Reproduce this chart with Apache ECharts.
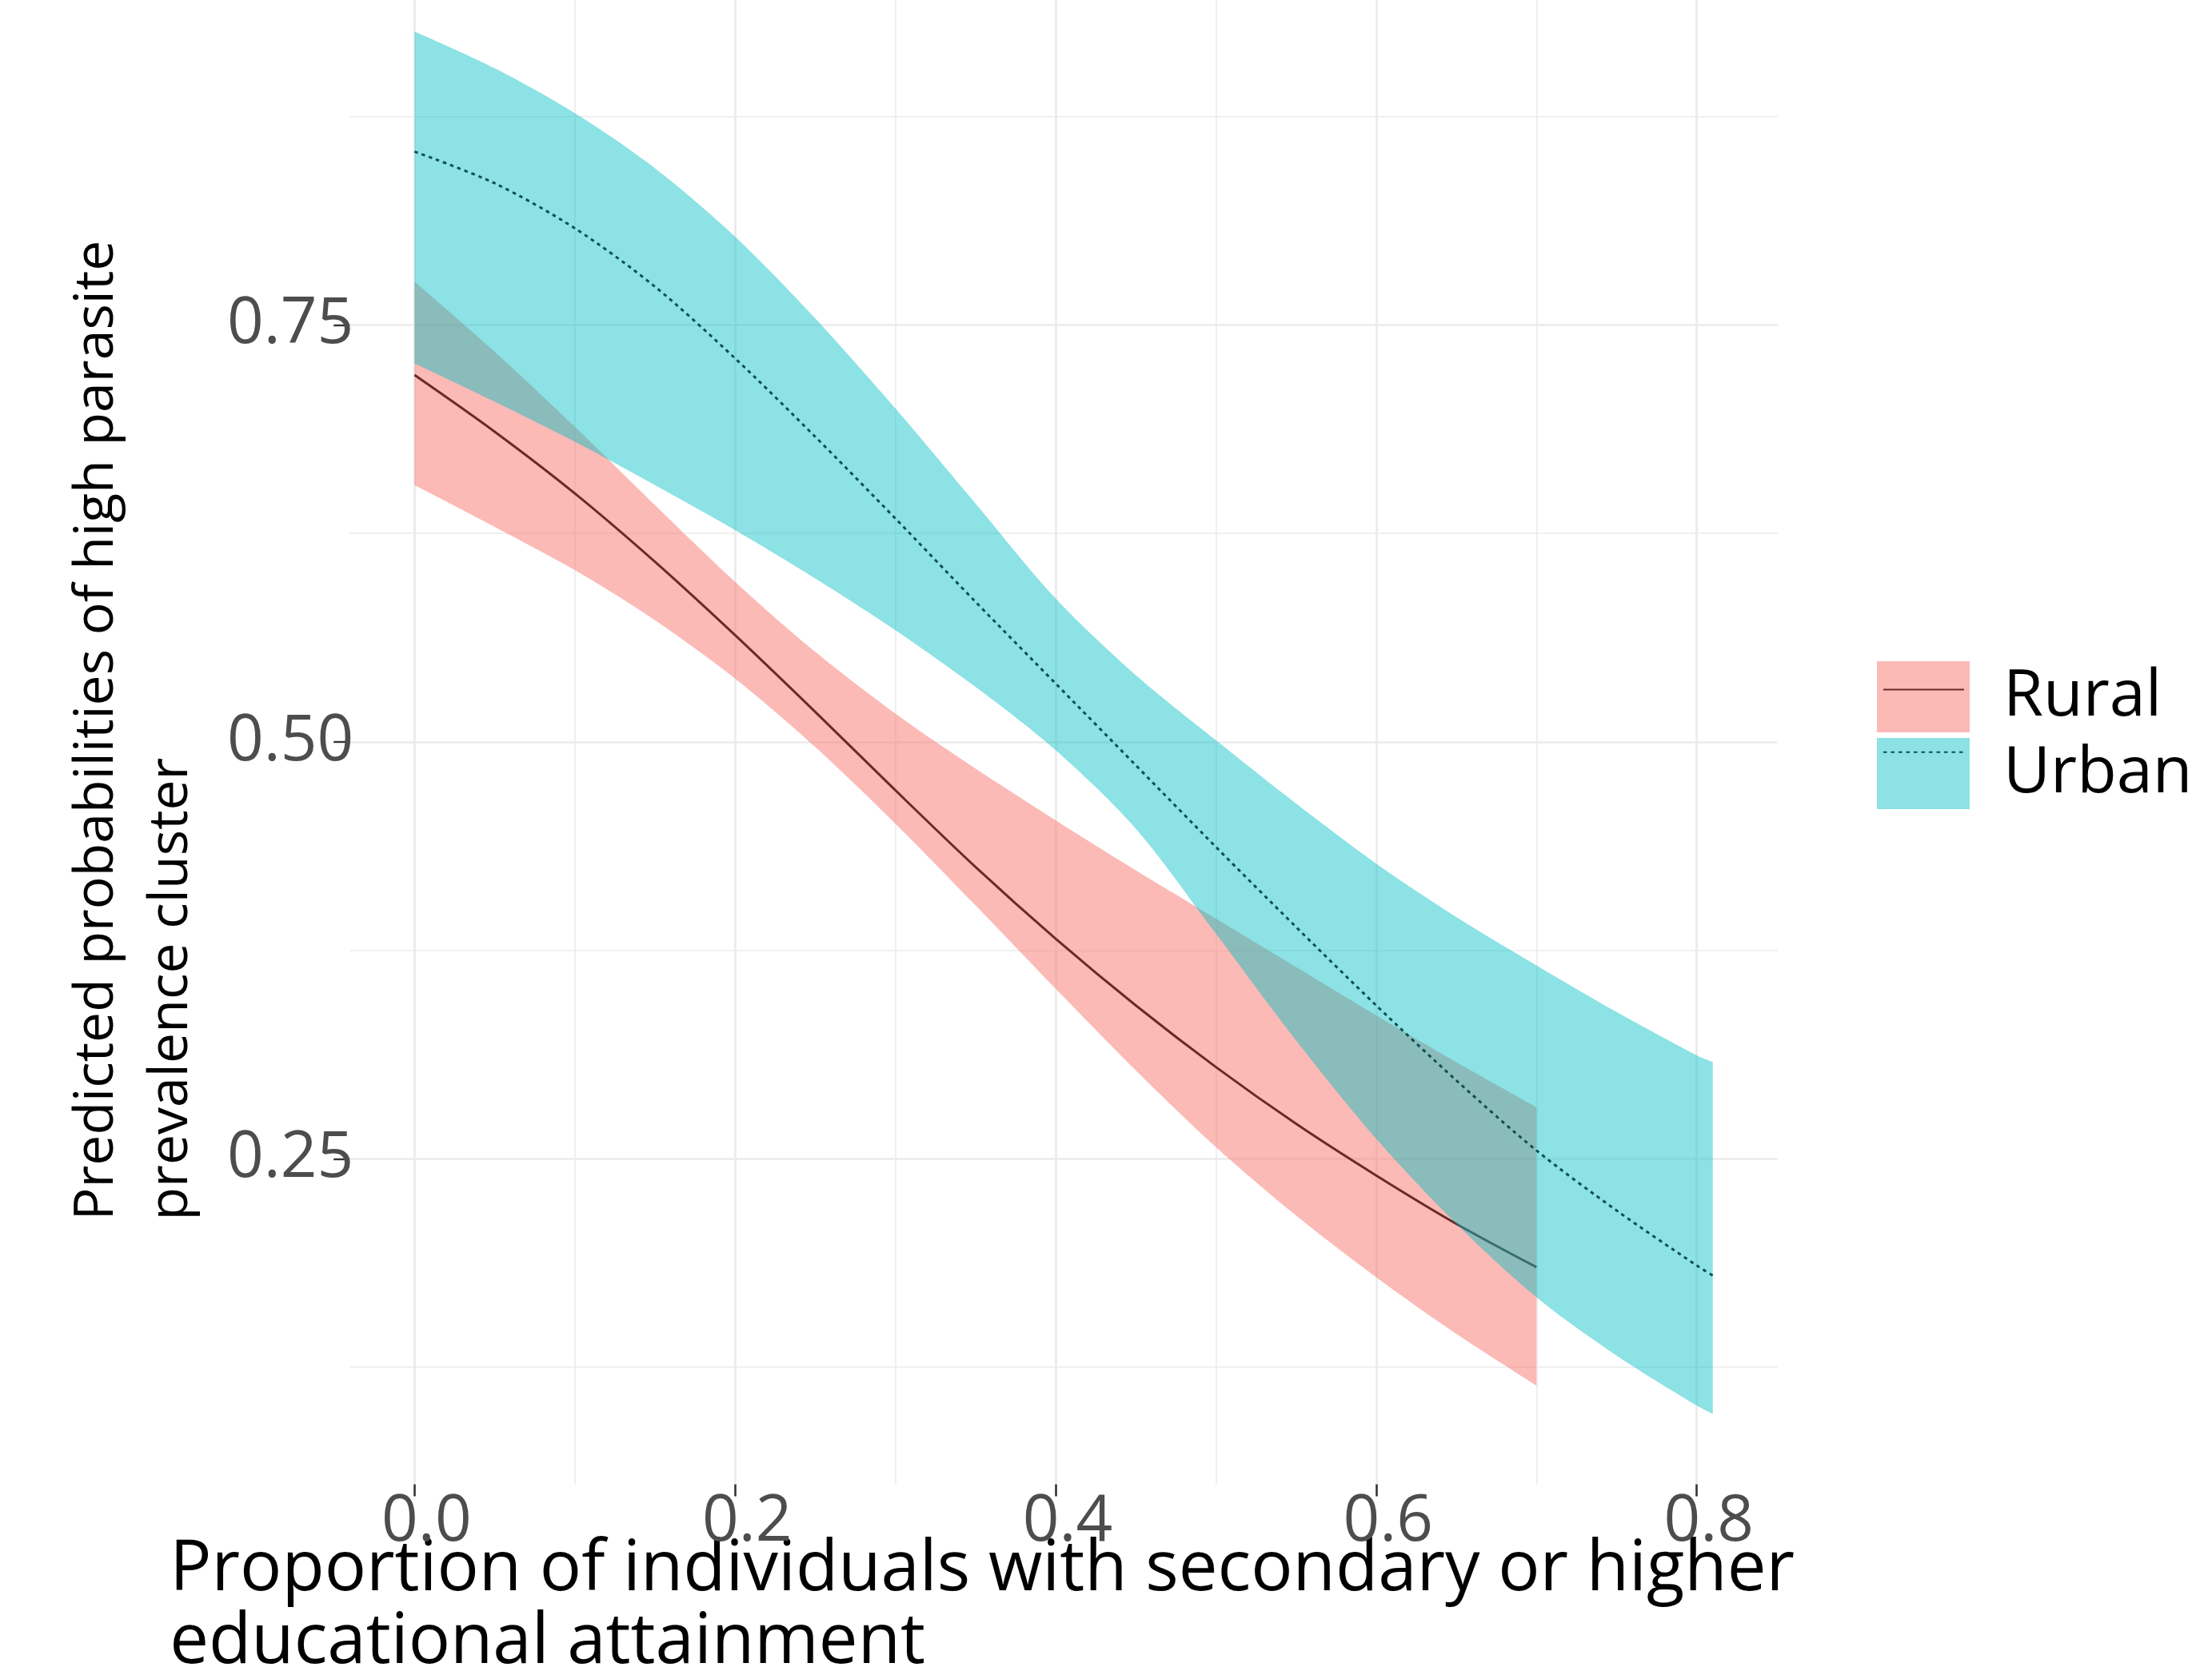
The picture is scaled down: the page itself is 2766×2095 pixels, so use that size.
<!DOCTYPE html>
<html>
<head>
<meta charset="utf-8">
<script src="https://cdn.jsdelivr.net/npm/echarts@6/dist/echarts.min.js"></script>
<style>
html,body{margin:0;padding:0;background:#ffffff;}
#chart{width:2766px;height:2095px;}
</style>
</head>
<body>
<div id="chart"></div>
<script>
// ---- data ----
const xRural = [0, 0.05, 0.1, 0.15, 0.2, 0.25, 0.3, 0.35, 0.4, 0.45, 0.5, 0.55, 0.6, 0.65, 0.7];
const ruralFit  = [0.720, 0.686, 0.649, 0.608, 0.564, 0.518, 0.471, 0.425, 0.382, 0.342, 0.305, 0.271, 0.240, 0.211, 0.185];
const ruralLow  = [0.654, 0.629, 0.603, 0.573, 0.538, 0.497, 0.451, 0.402, 0.352, 0.303, 0.257, 0.216, 0.179, 0.145, 0.114];
const ruralHigh = [0.776, 0.734, 0.689, 0.642, 0.596, 0.554, 0.517, 0.484, 0.453, 0.423, 0.394, 0.365, 0.336, 0.308, 0.281];

const xUrban = [0, 0.05, 0.1, 0.15, 0.2, 0.25, 0.3, 0.35, 0.4, 0.45, 0.5, 0.55, 0.6, 0.65, 0.7, 0.75, 0.8, 0.81];
const urbanFit  = [0.854, 0.835, 0.808, 0.773, 0.730, 0.683, 0.634, 0.584, 0.535, 0.486, 0.437, 0.389, 0.342, 0.297, 0.255, 0.219, 0.186, 0.180];
const urbanLow  = [0.727, 0.704, 0.680, 0.654, 0.627, 0.598, 0.567, 0.533, 0.495, 0.448, 0.385, 0.321, 0.262, 0.211, 0.167, 0.132, 0.102, 0.097];
const urbanHigh = [0.926, 0.904, 0.877, 0.844, 0.803, 0.754, 0.700, 0.643, 0.586, 0.540, 0.501, 0.463, 0.427, 0.395, 0.366, 0.338, 0.312, 0.308];

const groups = ['Rural', 'Urban'];
const xMajorTicks = [0, 0.2, 0.4, 0.6, 0.8];
const xMinorTicks = [0.1, 0.3, 0.5, 0.7];
const yMajorTicks = [0.25, 0.5, 0.75];
const yMinorTicks = [0.125, 0.375, 0.625, 0.875];

const xTitle = 'Proportion of individuals with secondary or higher\neducational attainment';
const yTitle = 'Predicted probabilities of high parasite\nprevalence cluster';

// ---- helpers ----
const pairs = (xs, ys) => xs.map((x, i) => [x, ys[i]]);
// rows are [y-value, x] so that the stacked dimension is y (encode maps x to column 1)
const yFirst = (xs, ys) => xs.map((x, i) => [ys[i], x]);
const yWidth = (xs, lo, hi) => xs.map((x, i) => [+(hi[i] - lo[i]).toFixed(4), x]);

const FONT = 'Open Sans';
const X_MIN = -0.0405, X_MAX = 0.8505;
const Y_MIN = 0.0548, Y_MAX = 0.9449;
const GRID_COLOR = '#EBEBEB';
const RURAL_FILL = 'rgba(248,118,109,0.5)';
const URBAN_FILL = 'rgba(0,191,196,0.45)';
const RURAL_LINE = '#6B2A2A';
const URBAN_LINE = '#0E4F53';

const chart = echarts.init(document.getElementById('chart'), null, {renderer: 'canvas'});

const bandBase = {
  type: 'line', xAxisIndex: 0, yAxisIndex: 0, encode: {x: 1, y: 0},
  smooth: 0.3, symbol: 'none', showSymbol: false, lineStyle: {opacity: 0}, silent: true
};

const option = {
  animation: false,
  backgroundColor: '#ffffff',
  textStyle: {fontFamily: FONT},
  grid: {left: 437.2, right: 543.1, top: 0, bottom: 238.5, containLabel: false, outerBoundsMode: 'none'},
  xAxis: [
    {
      type: 'value', min: X_MIN, max: X_MAX, position: 'bottom',
      axisLine: {show: false, onZero: false},
      axisTick: {show: true, customValues: xMajorTicks, length: 15, lineStyle: {color: '#333333', width: 2.6}},
      axisLabel: {
        customValues: xMajorTicks, formatter: v => v.toFixed(1),
        fontFamily: FONT, fontSize: 80, color: '#4D4D4D', margin: 8, padding: [0, 0, 0, 30]
      },
      splitLine: {show: true, lineStyle: {color: GRID_COLOR, width: 2.7}},
      name: xTitle, nameLocation: 'start', nameGap: 225, nameMoveOverlap: false,
      nameTextStyle: {
        fontFamily: FONT, fontSize: 87, lineHeight: 91, color: '#000000',
        align: 'left', verticalAlign: 'top', padding: [62, 0, 0, 0]
      }
    },
    {
      type: 'value', min: X_MIN, max: X_MAX, position: 'bottom',
      axisLine: {show: false, onZero: false},
      axisTick: {show: false, customValues: xMinorTicks},
      axisLabel: {show: false, customValues: xMinorTicks},
      splitLine: {show: true, lineStyle: {color: GRID_COLOR, width: 1.6}}
    }
  ],
  yAxis: [
    {
      type: 'value', min: Y_MIN, max: Y_MAX, position: 'left',
      axisLine: {show: false, onZero: false},
      axisTick: {show: true, customValues: yMajorTicks, length: 20, lineStyle: {color: '#333333', width: 2.4}},
      axisLabel: {
        customValues: yMajorTicks, formatter: v => v.toFixed(2),
        fontFamily: FONT, fontSize: 80, color: '#4D4D4D', margin: -5, padding: [0, 0, 16, 0]
      },
      splitLine: {show: true, lineStyle: {color: GRID_COLOR, width: 2.7}},
      name: yTitle, nameLocation: 'start', nameGap: -330, nameRotate: 90, nameMoveOverlap: false,
      nameTextStyle: {
        fontFamily: FONT, fontSize: 68, lineHeight: 93, color: '#000000',
        align: 'left', verticalAlign: 'bottom', padding: [0, 0, 176, 0]
      }
    },
    {
      type: 'value', min: Y_MIN, max: Y_MAX, position: 'left',
      axisLine: {show: false, onZero: false},
      axisTick: {show: false, customValues: yMinorTicks},
      axisLabel: {show: false, customValues: yMinorTicks},
      splitLine: {show: true, lineStyle: {color: GRID_COLOR, width: 1.6}}
    }
  ],
  legend: [
    {
      orient: 'vertical', left: 2347, top: 827, padding: 0,
      itemWidth: 116, itemHeight: 89, itemGap: 7, selectedMode: false,
      data: [
        {name: groups[0], icon: 'rect', itemStyle: {color: RURAL_FILL, borderWidth: 0}},
        {name: groups[1], icon: 'rect', itemStyle: {color: URBAN_FILL, borderWidth: 0}}
      ],
      textStyle: {fontFamily: FONT, fontSize: 81, lineHeight: 54, color: '#000000', padding: [0, 0, 34, 37]}
    },
    {
      orient: 'vertical', left: 2354, top: 827, padding: 0,
      itemWidth: 101, itemHeight: 89, itemGap: 7, selectedMode: false,
      data: groups,
      itemStyle: {color: 'rgba(0,0,0,0)', borderWidth: 0},
      textStyle: {fontSize: 10, color: 'rgba(0,0,0,0)'}
    }
  ],
  series: [
    {
      name: groups[0], type: 'line', xAxisIndex: 0, yAxisIndex: 0,
      data: pairs(xRural, ruralFit), smooth: 0.3, symbol: 'none', showSymbol: false,
      lineStyle: {color: RURAL_LINE, width: 3}, itemStyle: {color: RURAL_LINE}, z: 2
    },
    {
      name: groups[1], type: 'line', xAxisIndex: 0, yAxisIndex: 0,
      data: pairs(xUrban, urbanFit), smooth: 0.3, symbol: 'none', showSymbol: false,
      lineStyle: {color: URBAN_LINE, width: 3, type: [4.5, 5]}, itemStyle: {color: URBAN_LINE}, z: 4
    },
    Object.assign({}, bandBase, {
      name: 'Rural CI lower', stack: 'ruralCI', data: yFirst(xRural, ruralLow), z: 1
    }),
    Object.assign({}, bandBase, {
      name: 'Rural CI', stack: 'ruralCI', data: yWidth(xRural, ruralLow, ruralHigh),
      areaStyle: {color: RURAL_FILL, opacity: 1}, z: 1
    }),
    Object.assign({}, bandBase, {
      name: 'Urban CI lower', stack: 'urbanCI', data: yFirst(xUrban, urbanLow), z: 3
    }),
    Object.assign({}, bandBase, {
      name: 'Urban CI', stack: 'urbanCI', data: yWidth(xUrban, urbanLow, urbanHigh),
      areaStyle: {color: URBAN_FILL, opacity: 1}, z: 3
    })
  ]
};
chart.setOption(option);
</script>
</body>
</html>
